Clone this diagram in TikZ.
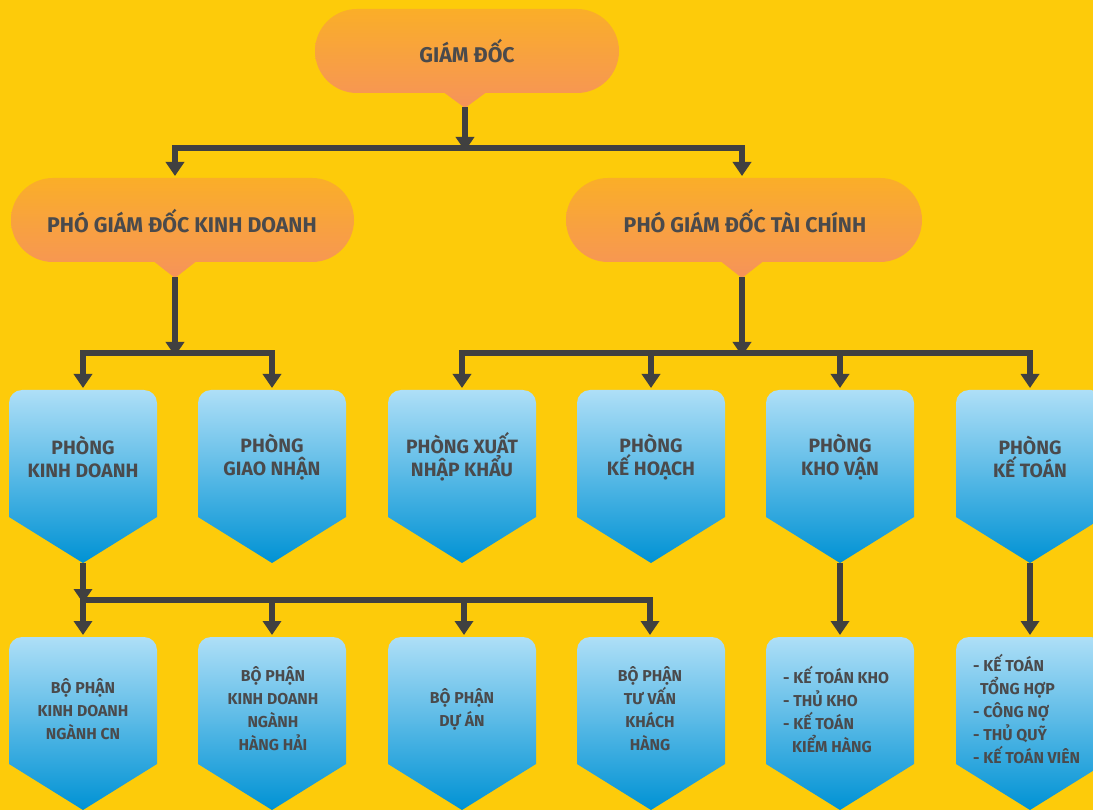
\documentclass[tikz,border=0pt]{standalone}
\usepackage{fontspec}
\setmainfont{Fira Sans}[UprightFont=* Bold, BoldFont=* ExtraBold]
\usetikzlibrary{arrows.meta}
\definecolor{bg}{HTML}{FDCB0A}
\definecolor{orT}{HTML}{FAAE28}
\definecolor{orB}{HTML}{F6935A}
\definecolor{blT}{HTML}{AEDFF7}
\definecolor{blB}{HTML}{0092D4}
\definecolor{ink}{HTML}{4A4A4C}
\definecolor{wire}{HTML}{404040}
\tikzset{
  wire/.style={draw=wire, line width=6pt, line join=miter},
  arr/.style={wire, -{Triangle[width=18pt,length=14pt]}},
  orangefill/.style={top color=orT, bottom color=orB},
  bluefill/.style={top color=blT, bottom color=blB},
  titletext/.style={text=ink, font=\fontsize{21.3}{25}\selectfont, inner sep=0pt},
  deptext/.style={text=ink, font=\fontsize{19.3}{23}\selectfont, align=center, inner sep=0pt},
  subtext/.style={text=ink, font=\fontsize{15.8}{23}\selectfont, align=center, inner sep=0pt},
  listtext/.style={text=ink, font=\fontsize{15.8}{23}\selectfont, align=left, inner sep=0pt, anchor=west},
}
\begin{document}
\begin{tikzpicture}[x=1pt,y=-1pt]
\useasboundingbox (0,0) rectangle (1093,810);
\fill[bg] (0,0) rectangle (1093,810);
\clip (0,0) rectangle (1093,810);

% ---------- orange callouts ----------
\shade[orangefill] [rounded corners=42] (315,9) rectangle (619,93)
  [sharp corners] (442,91) -- (465,108) -- (488,91) -- cycle;
\coordinate (gdtip) at (465,107);
\node[titletext] (gd) at (467,51) {GIÁM ĐỐC};

\shade[orangefill] [rounded corners=42] (11,178) rectangle (354,262)
  [sharp corners] (152,260) -- (175,278) -- (198,260) -- cycle;
\coordinate (kdtip) at (175,277);
\node[titletext] (pgdkd) at (182,221) {PHÓ GIÁM ĐỐC KINH DOANH};

\shade[orangefill] [rounded corners=42] (566,178) rectangle (922,262)
  [sharp corners] (719,260) -- (742,278) -- (765,260) -- cycle;
\coordinate (tctip) at (742,277);
\node[titletext] (pgdtc) at (745,221) {PHÓ GIÁM ĐỐC TÀI CHÍNH};

% ---------- blue pentagon boxes ----------
\foreach \cx in {83,272,462,651,840,1030}{
  \shade[bluefill] (\cx-74,517) [rounded corners=13] -- (\cx-74,390) -- (\cx+74,390)
    [sharp corners] -- (\cx+74,517) -- (\cx,563) -- cycle;
  \shade[bluefill] (\cx-74,764) [rounded corners=13] -- (\cx-74,637) -- (\cx+74,637)
    [sharp corners] -- (\cx+74,764) -- (\cx,810) -- cycle;
}

% level 3 texts
\node[deptext] (p1) at (83,457) {PHÒNG\\KINH DOANH};
\node[deptext] (p2) at (272,457) {PHÒNG\\GIAO NHẬN};
\node[deptext] (p3) at (462,457) {PHÒNG XUẤT\\NHẬP KHẨU};
\node[deptext] (p4) at (651,457) {PHÒNG\\KẾ HOẠCH};
\node[deptext] (p5) at (840,457) {PHÒNG\\KHO VẬN};
\node[deptext] (p6) at (1030,457) {PHÒNG\\KẾ TOÁN};

% level 4 texts
\node[subtext] (b1) at (83,709) {BỘ PHẬN\\KINH DOANH\\NGÀNH CN};
\node[subtext] (b2) at (273,709) {BỘ PHẬN\\KINH DOANH\\NGÀNH\\HÀNG HẢI};
\node[subtext] (b3) at (462,709) {BỘ PHẬN\\DỰ ÁN};
\node[subtext] (b4) at (650,709) {BỘ PHẬN\\TƯ VẤN\\KHÁCH\\HÀNG};
\node[listtext] (b5) at (783,709) {- KẾ TOÁN KHO\\- THỦ KHO\\- KẾ TOÁN\\\hspace*{9pt}KIỂM HÀNG};
\node[listtext] (b6) at (973,709) {- KẾ TOÁN\\\hspace*{7pt}TỔNG HỢP\\- CÔNG NỢ\\- THỦ QUỸ\\- KẾ TOÁN VIÊN};

% ---------- tip / junction coordinates ----------
\coordinate (j1) at (465,148);
\coordinate (t-kd) at (175,176);
\coordinate (t-tc) at (742,176);
\coordinate (j2) at (175,353);
\coordinate (j3) at (742,353);
\foreach \n/\cx in {1/83,2/272,3/462,4/651,5/840,6/1030}{
  \coordinate (top3-\n) at (\cx,388);
  \coordinate (tip3-\n) at (\cx,563);
}
\coordinate (j4) at (83,600);
\foreach \n/\cx in {1/83,2/272,3/464,4/650,5/840,6/1030}{
  \coordinate (top4-\n) at (\cx,635);
}

% ---------- connectors ----------
\draw[arr] (gdtip) -- ([yshift=-3pt]j1);
\draw[arr] (j1) -| (t-kd);
\draw[arr] (j1) -| (t-tc);

\draw[arr] (kdtip) -- ([yshift=-3pt]j2);
\draw[arr] (j2) -| (top3-1);
\draw[arr] (j2) -| (top3-2);

\draw[arr] (tctip) -- ([yshift=-3pt]j3);
\draw[arr] (j3) -| (top3-3);
\draw[arr] (j3) -| (top3-4);
\draw[arr] (j3) -| (top3-5);
\draw[arr] (j3) -| (top3-6);

\draw[arr] (tip3-1) -- ([yshift=-3pt]j4);
\draw[wire] ([xshift=-3pt]j4) -- (top4-4 |- j4);
\draw[arr] (j4) -- (top4-1);
\draw[arr] (j4) -| (top4-2);
\draw[arr] (j4) -| (top4-3);
\draw[arr] (j4) -| (top4-4);

\draw[arr] (tip3-5) -- (top4-5);
\draw[arr] (tip3-6) -- (top4-6);
\end{tikzpicture}
\end{document}
